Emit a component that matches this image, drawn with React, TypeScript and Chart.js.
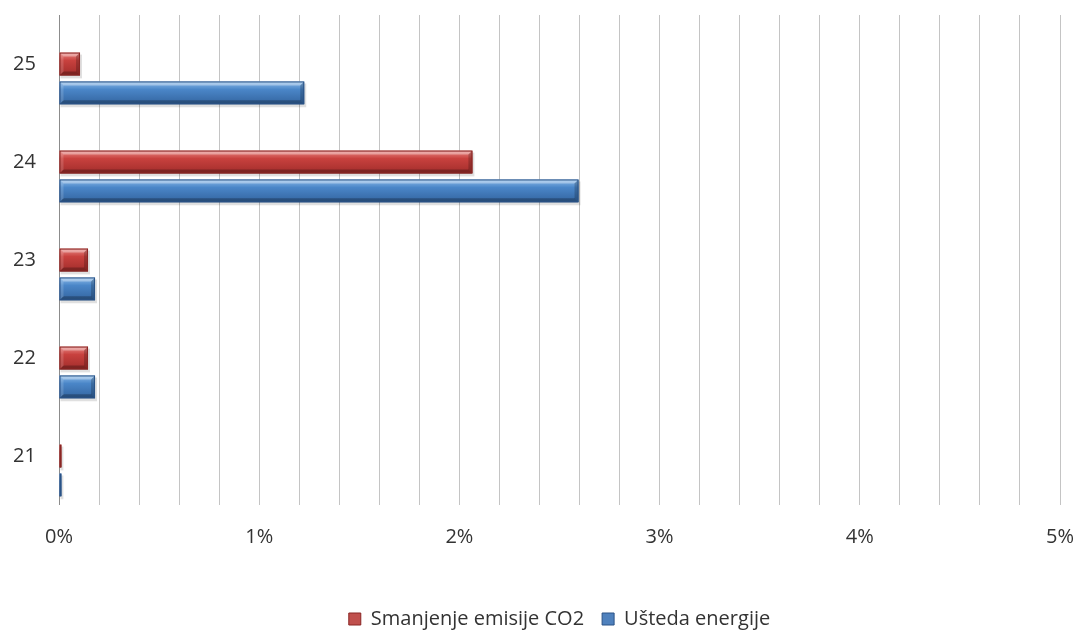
import { useEffect, useRef } from "react";
import { Chart, registerables } from "chart.js";

Chart.register(...registerables);

const categories = ["25", "24", "23", "22", "21"];
const co2Reduction = [0.105, 2.065, 0.145, 0.145, 0.012];
const energySaving = [1.225, 2.595, 0.18, 0.18, 0.012];
const emptySlot: (number | null)[] = [null, null, null, null, null];
const seriesNames = ["Smanjenje emisije CO2", "Ušteda energije"];
const xMin = 0;
const xMax = 5;
const xStep = 0.2;

const FONT = "'Open Sans', 'DejaVu Sans', sans-serif";

const palettes: Record<number, { light: string; mid: string; dark: string; edge: string }> = {
  1: { light: "#e98a86", mid: "#c8413e", dark: "#a12d2b", edge: "#8a2624" },
  2: { light: "#8dbbe9", mid: "#4a86c8", dark: "#33649f", edge: "#2a5387" },
};

const bevelPlugin = {
  id: "bevelBars",
  afterDatasetsDraw(chart: any) {
    const ctx = chart.ctx as CanvasRenderingContext2D;
    [1, 2].forEach((di) => {
      const meta = chart.getDatasetMeta(di);
      const pal = palettes[di];
      meta.data.forEach((el: any) => {
        const p = el.getProps(["x", "y", "base", "height"], true);
        const x0 = Math.min(p.base, p.x);
        const x1 = Math.max(p.base, p.x);
        const y0 = p.y - p.height / 2;
        const y1 = p.y + p.height / 2;
        const w = x1 - x0;
        const h = y1 - y0;
        if (w <= 0) return;
        const b = Math.min(4, w / 2, h / 2);
        ctx.save();
        ctx.fillStyle = "rgba(0,0,0,0.12)";
        ctx.fillRect(x0 + 1, y0 + 2, w + 1, h + 1);
        const g = ctx.createLinearGradient(0, y0, 0, y1);
        g.addColorStop(0, pal.light);
        g.addColorStop(0.35, pal.mid);
        g.addColorStop(1, pal.dark);
        ctx.fillStyle = g;
        ctx.fillRect(x0, y0, w, h);
        ctx.fillStyle = "rgba(255,255,255,0.35)";
        ctx.beginPath();
        ctx.moveTo(x0, y0);
        ctx.lineTo(x1, y0);
        ctx.lineTo(x1 - b, y0 + b);
        ctx.lineTo(x0 + b, y0 + b);
        ctx.closePath();
        ctx.fill();
        ctx.fillStyle = "rgba(0,0,0,0.25)";
        ctx.beginPath();
        ctx.moveTo(x0, y1);
        ctx.lineTo(x1, y1);
        ctx.lineTo(x1 - b, y1 - b);
        ctx.lineTo(x0 + b, y1 - b);
        ctx.closePath();
        ctx.fill();
        ctx.fillStyle = "rgba(0,0,0,0.2)";
        ctx.beginPath();
        ctx.moveTo(x1, y0);
        ctx.lineTo(x1, y1);
        ctx.lineTo(x1 - b, y1 - b);
        ctx.lineTo(x1 - b, y0 + b);
        ctx.closePath();
        ctx.fill();
        ctx.fillStyle = "rgba(255,255,255,0.15)";
        ctx.beginPath();
        ctx.moveTo(x0, y0);
        ctx.lineTo(x0, y1);
        ctx.lineTo(x0 + b, y1 - b);
        ctx.lineTo(x0 + b, y0 + b);
        ctx.closePath();
        ctx.fill();
        ctx.strokeStyle = pal.edge;
        ctx.lineWidth = 1;
        ctx.strokeRect(x0 + 0.5, y0 + 0.5, w - 1, h - 1);
        ctx.restore();
      });
    });
  },
};

export default function App() {
  const ref = useRef<HTMLCanvasElement | null>(null);
  useEffect(() => {
    document.body.style.margin = "0";
    document.body.style.background = "#ffffff";
    const canvas = ref.current;
    if (!canvas) return;
    const chart = new Chart(canvas, {
      type: "bar",
      data: {
        labels: categories,
        datasets: [
          {
            label: "",
            data: emptySlot,
            backgroundColor: "rgba(0,0,0,0)",
          },
          {
            label: seriesNames[0],
            data: co2Reduction,
            backgroundColor: "#c0504d",
            borderColor: "#8a2624",
            borderWidth: 1,
          },
          {
            label: seriesNames[1],
            data: energySaving,
            backgroundColor: "#4f81bd",
            borderColor: "#2a5387",
            borderWidth: 1,
          },
        ],
      },
      options: {
        indexAxis: "y",
        responsive: false,
        animation: false,
        maintainAspectRatio: false,
        layout: { padding: { top: 15, right: 17, left: 13, bottom: -9 } },
        datasets: {
          bar: { categoryPercentage: 0.884, barPercentage: 0.79 },
        },
        scales: {
          x: {
            type: "linear",
            min: xMin,
            max: xMax,
            afterFit: (s: any) => {
              s.height = 86;
            },
            border: { display: false },
            grid: {
              color: (c: any) => (c.tick && c.tick.value === 0 ? "#8c8c8c" : "#c4c4c4"),
              lineWidth: 1,
              drawTicks: false,
              tickLength: 0,
            },
            ticks: {
              stepSize: xStep,
              maxTicksLimit: 40,
              autoSkip: false,
              maxRotation: 0,
              padding: 2,
              color: "#333333",
              font: { family: FONT, size: 20, lineHeight: 3 },
              callback: (v: any) => {
                const n = Number(v);
                return Math.abs(n - Math.round(n)) < 1e-6 ? `${Math.round(n)}%` : "";
              },
            },
          },
          y: {
            type: "category",
            afterFit: (s: any) => {
              s.width = 46;
            },
            border: { display: false },
            grid: { display: false },
            ticks: {
              padding: 0,
              crossAlign: "far",
              color: "#333333",
              font: { family: FONT, size: 20 },
            },
          },
        },
        plugins: {
          legend: {
            position: "bottom",
            fullSize: false,
            labels: {
              filter: (item: any) => item.text !== "",
              boxWidth: 12,
              boxHeight: 12,
              padding: 18,
              color: "#333333",
              font: { family: FONT, size: 20 },
            },
          },
          tooltip: { enabled: false },
        },
      },
      plugins: [bevelPlugin],
    } as any);
    return () => chart.destroy();
  }, []);
  return (
    <div style={{ width: 1077, height: 630 }}>
      <canvas ref={ref} width={1077} height={630} style={{ display: "block" }} />
    </div>
  );
}
